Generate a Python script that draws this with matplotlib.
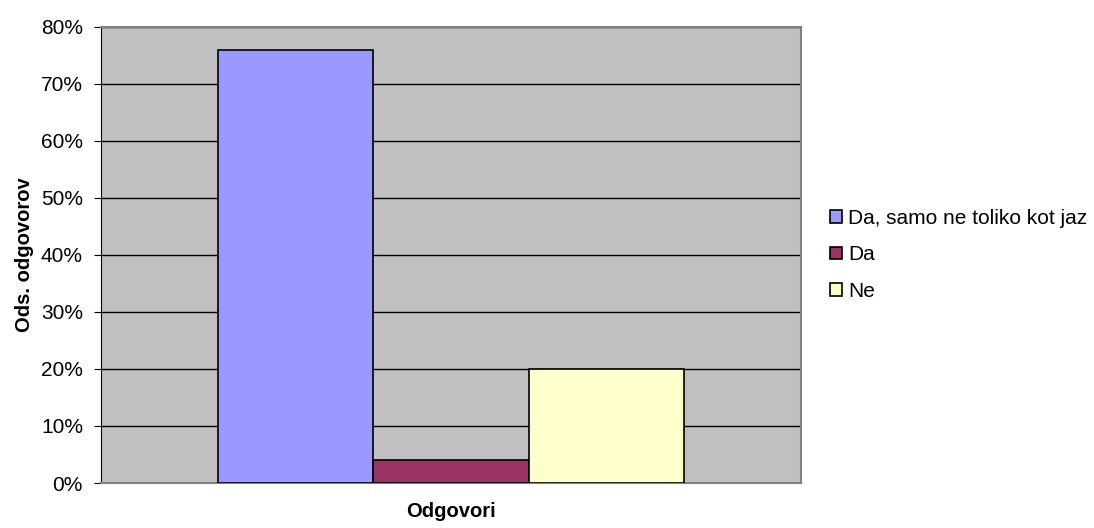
import numpy as np
import matplotlib.pyplot as plt
from matplotlib.ticker import PercentFormatter

# answers and share of respondents
labels = ['Da, samo ne toliko kot jaz', 'Da', 'Ne']
shares = [76, 4, 20]
colors = ['#9999FF', '#993366', '#FFFFCC']

plt.rcParams['font.family'] = ['Liberation Sans', 'DejaVu Sans']

fig = plt.figure(figsize=(10.94, 5.28), dpi=100)
ax = fig.add_axes([0.0923, 0.0852, 0.640, 0.864])
ax.set_facecolor('#C0C0C0')

w = 1 / 4.5
offsets = (np.arange(len(shares)) - 1) * w
for off, val, col, lab in zip(offsets, shares, colors, labels):
    ax.bar(off, val, width=w, color=col, edgecolor='black', linewidth=1.2, label=lab, zorder=3)

ax.set_xlim(-0.5, 0.5)
ax.set_ylim(0, 80)
ax.set_yticks(np.arange(0, 81, 10))
ax.yaxis.set_major_formatter(PercentFormatter(decimals=0))
ax.set_xticks([])
ax.grid(axis='y', color='black', linewidth=1, zorder=1)

for side in ['top', 'right']:
    ax.spines[side].set_color('#808080')
    ax.spines[side].set_linewidth(1.5)
ax.spines['left'].set_color('black')
ax.spines['bottom'].set_color('#808080')
ax.spines['bottom'].set_linewidth(1.5)
ax.tick_params(axis='y', labelsize=15, length=5, direction='out', pad=8)

ax.set_xlabel('Odgovori', fontsize=14.5, fontweight='bold', labelpad=14)
ax.set_ylabel('Ods. odgovorov', fontsize=14.5, fontweight='bold', labelpad=5)

ax.legend(loc='center left', bbox_to_anchor=(1.03, 0.5), frameon=False, fontsize=15,
          handlelength=0.55, handleheight=0.55, handletextpad=0.3, labelspacing=0.85,
          borderaxespad=0)

fig.savefig('out.png', dpi=100)
